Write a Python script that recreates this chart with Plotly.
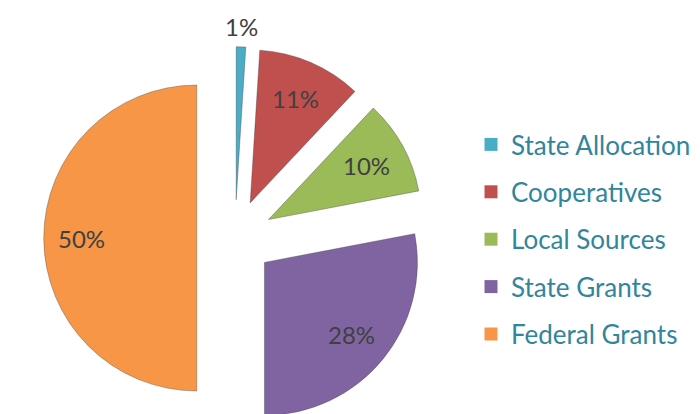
import math
import plotly.graph_objects as go

# ---- data ----
categories = ["State Allocation", "Cooperatives", "Local Sources", "State Grants", "Federal Grants"]
values = [1, 11, 10, 28, 50]
colors = ["#4BACC6", "#C0504D", "#9BBB59", "#8064A2", "#F79646"]
# radial position of each percentage label, as a fraction of the radius from the slice tip
label_radius = [1.13, 0.74, 0.73, 0.74, 0.75]

# ---- layout geometry ----
W, H = 700, 430
PULL = 0.25
dom_x = [0.0625, 0.6089]
dom_y = [0.0017, 0.8913]

fig = go.Figure()
fig.add_trace(go.Pie(
    labels=categories, values=values, sort=False, direction="clockwise", rotation=0,
    pull=[PULL] * len(values),
    marker=dict(colors=colors, line=dict(color="rgba(60,60,60,0.45)", width=0.8)),
    textinfo="none", hoverinfo="label+percent", showlegend=False,
    domain=dict(x=dom_x, y=dom_y),
))

# legend entries (one group per category for spacing)
for name, c in zip(categories, colors):
    fig.add_trace(go.Scatter(
        x=[None], y=[None], mode="markers", name=name, legendgroup=name,
        marker=dict(symbol="square", size=13, color=c), hoverinfo="skip",
    ))

# percentage labels placed from the pie geometry
cx = W * (dom_x[0] + dom_x[1]) / 2
cy = H * (1 - (dom_y[0] + dom_y[1]) / 2)
r = min(W * (dom_x[1] - dom_x[0]), H * (dom_y[1] - dom_y[0])) / 2 / (1 + PULL)
total = sum(values)
annotations = []
start = 0.0
for v, lr in zip(values, label_radius):
    frac = v / total
    mid = (start + frac / 2) * 2 * math.pi
    start += frac
    dist = (PULL + lr) * r
    px = cx + dist * math.sin(mid)
    py = cy - dist * math.cos(mid)
    annotations.append(dict(
        x=px / W, y=1 - py / H, xref="paper", yref="paper", showarrow=False,
        text=f"{round(frac * 100)}%", font=dict(family="Lato", size=24, color="#404040"),
        xanchor="center", yanchor="middle",
    ))

fig.update_layout(
    width=W, height=H,
    margin=dict(l=0, r=0, t=0, b=0),
    paper_bgcolor="white", plot_bgcolor="white",
    xaxis=dict(visible=False), yaxis=dict(visible=False),
    annotations=annotations,
    legend=dict(
        x=471 / W, y=1 - 121 / H, xanchor="left", yanchor="top",
        font=dict(family="Lato", size=26, color="#31859C"),
        tracegroupgap=10.6, bgcolor="rgba(0,0,0,0)",
    ),
)

fig.write_html(
    "out.html",
    post_script="document.documentElement.style.overflow='hidden';document.body.style.overflow='hidden';",
)
